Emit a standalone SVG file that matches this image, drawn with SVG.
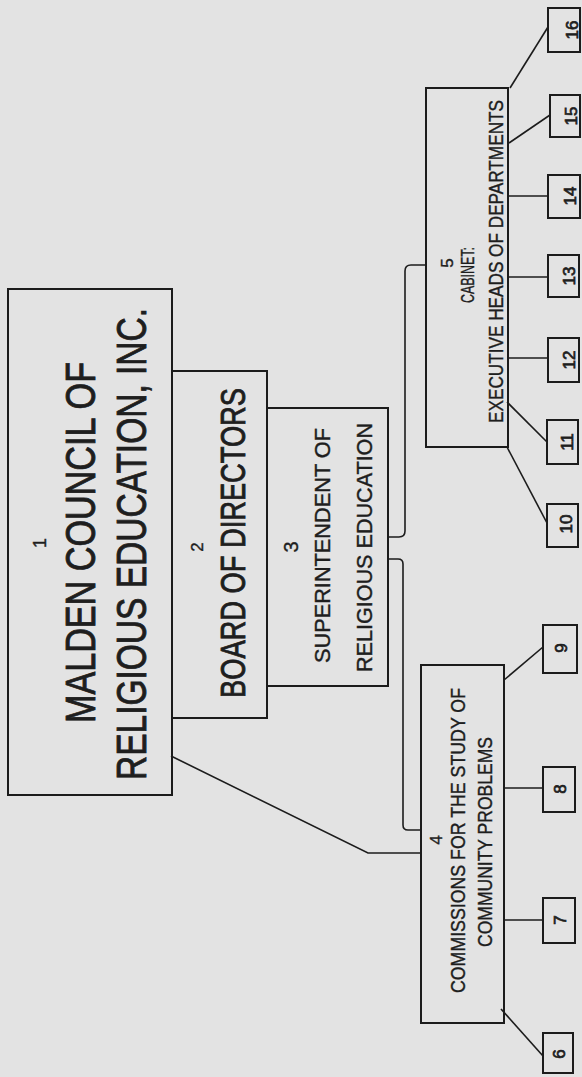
<svg xmlns="http://www.w3.org/2000/svg" width="582" height="1077" viewBox="0 0 582 1077">
<style>
.bx{fill:none;stroke:#1c1c1c;stroke-width:2}
.sb{fill:none;stroke:#1c1c1c;stroke-width:2}
.cn{fill:none;stroke:#1c1c1c;stroke-width:1.6}
text{font-family:"Liberation Sans",Arial,sans-serif;fill:#1e1e1e;text-anchor:middle;stroke:#1e1e1e;stroke-width:0.4}
.big{stroke-width:0.9}
.n{font-size:17px;stroke-width:0.7}
</style>
<rect width="582" height="1077" fill="#e3e3e3"/>
<g id="connectors">
<path class="cn" d="M171,756 L368,853 H421"/>
<path class="cn" d="M388,559 H398 Q403,559 403,564 V825 Q403,830 408,830 H421"/>
<path class="cn" d="M388,537 H399 Q405,537 405,531 V271 Q405,265 411,265 H426"/>
<path class="cn" d="M504,680 L543,647"/>
<path class="cn" d="M504,788 H543"/>
<path class="cn" d="M503,920 H543"/>
<path class="cn" d="M501,1009 L543,1056"/>
<path class="cn" d="M507,447 L547,523"/>
<path class="cn" d="M507,402 L547,442"/>
<path class="cn" d="M508,358 H548"/>
<path class="cn" d="M508,277 H548"/>
<path class="cn" d="M508,196 H548"/>
<path class="cn" d="M509,143 L550,115"/>
<path class="cn" d="M510,88 L548,27"/>
</g>
<g id="n1">
<rect class="bx" x="8" y="289" width="164" height="506"/>
<text transform="translate(46,543) rotate(-90)" font-size="18">1</text>
<text class="big" transform="translate(95,542.5) rotate(-90)" font-size="43" textLength="361" lengthAdjust="spacingAndGlyphs">MALDEN COUNCIL OF</text>
<text class="big" transform="translate(146,544) rotate(-90)" font-size="43" textLength="472" lengthAdjust="spacingAndGlyphs">RELIGIOUS EDUCATION, INC.</text>
</g>
<g id="n2">
<rect class="bx" x="172" y="371" width="95" height="347"/>
<text transform="translate(203,547) rotate(-90)" font-size="17" stroke-width="0.8">2</text>
<text class="big" transform="translate(245,543) rotate(-90)" font-size="35" textLength="310" lengthAdjust="spacingAndGlyphs">BOARD OF DIRECTORS</text>
</g>
<g id="n3">
<rect class="bx" x="267" y="408" width="121" height="278"/>
<text transform="translate(298,547) rotate(-90)" font-size="20" stroke-width="0.9">3</text>
<text transform="translate(330,545.5) rotate(-90)" font-size="22" textLength="235" lengthAdjust="spacingAndGlyphs">SUPERINTENDENT OF</text>
<text transform="translate(372,547.5) rotate(-90)" font-size="22" textLength="249" lengthAdjust="spacingAndGlyphs">RELIGIOUS EDUCATION</text>
</g>
<g id="n4">
<rect class="bx" x="421" y="665" width="83" height="358"/>
<text transform="translate(442,840) rotate(-90)" font-size="17">4</text>
<text transform="translate(465,840.5) rotate(-90)" font-size="21" textLength="305" lengthAdjust="spacingAndGlyphs">COMMISSIONS FOR THE STUDY OF</text>
<text transform="translate(492,842) rotate(-90)" font-size="21" textLength="210" lengthAdjust="spacingAndGlyphs">COMMUNITY PROBLEMS</text>
</g>
<g id="n5">
<rect class="bx" x="426" y="88" width="82" height="359"/>
<text transform="translate(453,263) rotate(-90)" font-size="17">5</text>
<text transform="translate(474,275) rotate(-90)" font-size="18" textLength="56" lengthAdjust="spacingAndGlyphs">CABINET:</text>
<text transform="translate(503,261.5) rotate(-90)" font-size="21" textLength="323" lengthAdjust="spacingAndGlyphs">EXECUTIVE HEADS OF DEPARTMENTS</text>
</g>
<g id="n6"><rect class="sb" x="543" y="1033" width="30" height="40"/><text class="n" transform="translate(565,1054) rotate(-90)">6</text></g>
<g id="n7"><rect class="sb" x="543" y="898" width="32" height="45"/><text class="n" transform="translate(566,920) rotate(-90)">7</text></g>
<g id="n8"><rect class="sb" x="543" y="767" width="32" height="45"/><text class="n" transform="translate(566,789) rotate(-90)">8</text></g>
<g id="n9"><rect class="sb" x="543" y="625" width="34" height="48"/><text class="n" transform="translate(567,648) rotate(-90)">9</text></g>
<g id="n10"><rect class="sb" x="547" y="504" width="31" height="43"/><text class="n" transform="translate(572,524) rotate(-90)">10</text></g>
<g id="n11"><rect class="sb" x="547" y="420" width="31" height="44"/><text class="n" transform="translate(573,442) rotate(-90)">11</text></g>
<g id="n12"><rect class="sb" x="548" y="338" width="31" height="44"/><text class="n" transform="translate(575,360) rotate(-90)">12</text></g>
<g id="n13"><rect class="sb" x="548" y="255" width="31" height="42"/><text class="n" transform="translate(575,276) rotate(-90)">13</text></g>
<g id="n14"><rect class="sb" x="548" y="175" width="32" height="43"/><text class="n" transform="translate(576,196) rotate(-90)">14</text></g>
<g id="n15"><rect class="sb" x="550" y="95" width="30" height="42"/><text class="n" transform="translate(577,116) rotate(-90)">15</text></g>
<g id="n16"><rect class="sb" x="548" y="8" width="32" height="44"/><text class="n" transform="translate(578,30) rotate(-90)">16</text></g>
</svg>
